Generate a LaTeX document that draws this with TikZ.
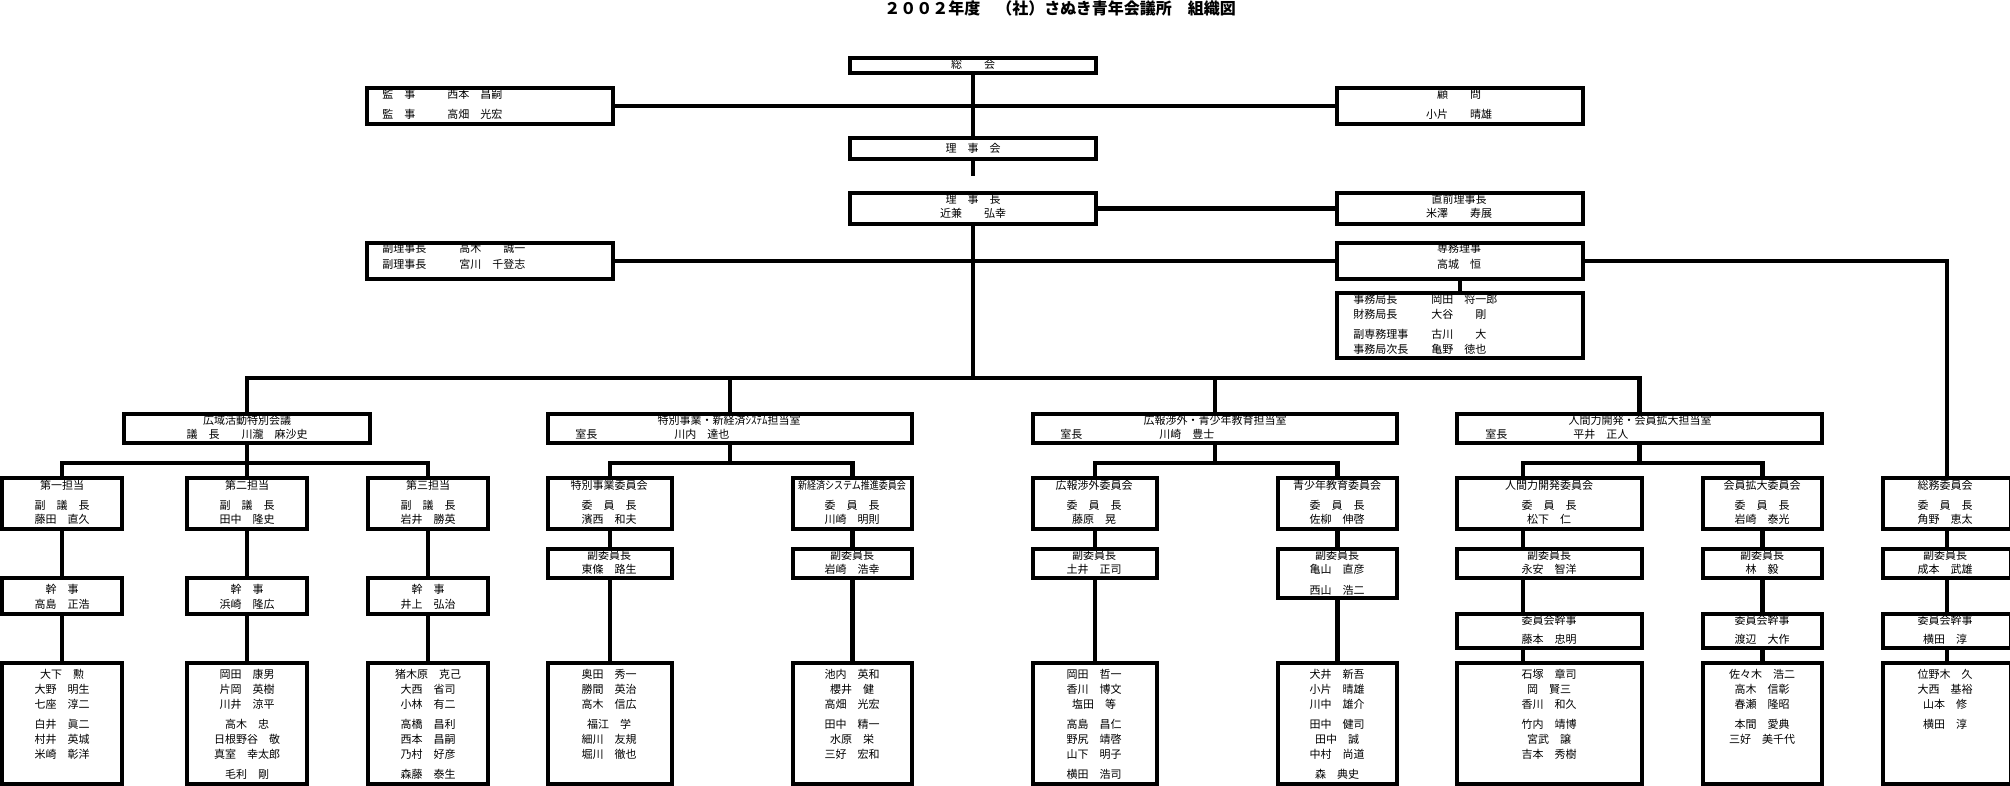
\documentclass[tikz,border=0pt]{standalone}
\usepackage{fontspec}
\usepackage{graphicx}
\newfontfamily\jp{Noto Sans CJK JP}
\usetikzlibrary{fit}

\tikzset{
  box/.style={draw, line width=4.5pt, inner sep=0pt},
  txt/.style={font=\jp\fontsize{11}{13}\selectfont, inner sep=0pt, anchor=base, yshift=-4pt},
  heading/.style={font=\jp\bfseries\fontsize{16}{18}\selectfont, inner sep=0pt, anchor=base west},
}

\begin{document}
\begin{tikzpicture}[x=1pt, y=-1pt, line width=4.5pt]
\path[use as bounding box, fill=white] (0,0) rectangle (2010,786);

\node[heading] (title) at (882,15) {２００２年度　（社）さぬき青年会議所　組織図};

\coordinate (bus) at (0,378);
\coordinate (sub) at (0,463);
\coordinate (dx) at (1523,0);
\coordinate (rijikai-end) at (973,176);

% boxes
\begin{scope}[every node/.style={box}]
  \node[fit={(850,58) (1096,73)}] (sokai) {};
  \node[fit={(367,88) (613,124)}] (kanji) {};
  \node[fit={(1337,88) (1583,124)}] (komon) {};
  \node[fit={(850,138) (1096,159)}] (rijikai) {};
  \node[fit={(850,193) (1096,224)}] (rijicho) {};
  \node[fit={(1337,193) (1583,224)}] (zenrijicho) {};
  \node[fit={(367,243) (613,279)}] (fukurijicho) {};
  \node[fit={(1337,243) (1583,279)}] (senmu) {};
  \node[fit={(1337,293) (1583,358)}] (jimukyoku) {};

  \node[fit={(124,414) (370,443)}] (kouiki) {};
  \node[fit={(548,414) (912,443)}] (tokubetsu) {};
  \node[fit={(1033,414) (1397,443)}] (kouhou) {};
  \node[fit={(1457,414) (1822,443)}] (jinzai) {};

  \foreach \n/\xa/\xb in {dai1/2/122, dai2/187/307, dai3/368/488,
      tokuiin/548/672, shinkeizai/793/912, kouhouiin/1033/1157,
      seishounen/1278/1397, ningen/1457/1642, kaiin/1703/1822, soumu/1883/2011}
  {
    \node[fit={(\xa,478) (\xb,529)}] (\n) {};
    \node[fit={(\xa,663) (\xb,784)}] (\n-mem) {};
  }

  \foreach \n/\xa/\xb in {dai1/2/122, dai2/187/307, dai3/368/488}
    \node[fit={(\xa,578) (\xb,614)}] (\n-kan) {};

  \foreach \n/\xa/\xb in {tokuiin/548/672, shinkeizai/793/912, kouhouiin/1033/1157,
      ningen/1457/1642, kaiin/1703/1822, soumu/1883/2011}
    \node[fit={(\xa,549) (\xb,578)}] (\n-fuku) {};
  \node[fit={(1278,549) (1397,598)}] (seishounen-fuku) {};

  \foreach \n/\xa/\xb in {ningen/1457/1642, kaiin/1703/1822, soumu/1883/2011}
    \node[fit={(\xa,614) (\xb,648)}] (\n-kan) {};
\end{scope}

% connectors
\draw (sokai.south) -- (rijikai.north);
\draw (kanji.east) -- (komon.west);
\draw (rijikai.south) -- (rijikai-end);
\draw (rijicho.east) -- (zenrijicho.west);
\draw (fukurijicho.east) -- (senmu.west);
\draw (senmu.south) -- (jimukyoku.north);
\draw (senmu.east) -| (soumu.north);
\draw (rijicho.south) -- (rijicho.south |- bus);
\draw (kouiki.north) |- (jinzai.north |- bus) -- (jinzai.north);
\draw (tokubetsu.north) -- (tokubetsu.north |- bus);
\draw (kouhou.north) -- (kouhou.north |- bus);

\draw (kouiki.south) -- (dai2.north);
\draw (dai1.north) |- (dai3.north |- sub) -- (dai3.north);
\draw (tokubetsu.south) -- (tokubetsu.south |- sub);
\draw (tokuiin.north) |- (shinkeizai.north |- sub) -- (shinkeizai.north);
\draw (kouhou.south) -- (kouhou.south |- sub);
\draw (kouhouiin.north) |- (seishounen.north |- sub) -- (seishounen.north);
\draw (jinzai.south) -- (jinzai.south |- sub);
\draw (ningen.north -| dx) |- (kaiin.north |- sub) -- (kaiin.north);

\foreach \a/\b in {dai1/dai1-kan, dai1-kan/dai1-mem, dai2/dai2-kan, dai2-kan/dai2-mem,
    dai3/dai3-kan, dai3-kan/dai3-mem, tokuiin/tokuiin-fuku, tokuiin-fuku/tokuiin-mem,
    shinkeizai/shinkeizai-fuku, shinkeizai-fuku/shinkeizai-mem,
    kouhouiin/kouhouiin-fuku, kouhouiin-fuku/kouhouiin-mem,
    seishounen/seishounen-fuku, seishounen-fuku/seishounen-mem,
    kaiin/kaiin-fuku, kaiin-fuku/kaiin-kan, kaiin-kan/kaiin-mem,
    soumu/soumu-fuku, soumu-fuku/soumu-kan, soumu-kan/soumu-mem}
  \draw (\a.south) -- (\b.north);
\foreach \a/\b in {ningen/ningen-fuku, ningen-fuku/ningen-kan, ningen-kan/ningen-mem}
  \draw (\a.south -| dx) -- (\b.north -| dx);

% texts
\begin{scope}[every node/.style={txt}]
  \node (sokai-1) at (973,65) {総　　会};
  \node (rijikai-1) at (973,149) {理　事　会};
  \node (rijicho-1) at (973,200) {理　事　長};
  \node (rijicho-2) at (973,214) {近兼　　弘幸};

  \node[anchor=base west] (kanji-1) at (380,95) {監　事};
  \node[anchor=base west] (kanji-2) at (445,95) {西本　昌嗣};
  \node[anchor=base west] (kanji-3) at (380,115) {監　事};
  \node[anchor=base west] (kanji-4) at (445,115) {高畑　光宏};

  \node[anchor=base west] (fukurijicho-1) at (380,249) {副理事長};
  \node[anchor=base west] (fukurijicho-2) at (457,249) {高木　　誠一};
  \node[anchor=base west] (fukurijicho-3) at (380,265) {副理事長};
  \node[anchor=base west] (fukurijicho-4) at (457,265) {宮川　千登志};

  \node (komon-1) at (1459,95) {顧　　問};
  \node (komon-2) at (1459,115) {小片　　晴雄};
  \node (zenrijicho-1) at (1459,200) {直前理事長};
  \node (zenrijicho-2) at (1459,214) {米澤　　寿展};
  \node (senmu-1) at (1459,249) {専務理事};
  \node (senmu-2) at (1459,265) {高城　恒};

  \foreach \r/\nm/\yy [count=\k] in {事務局長/岡田　将一郎/300, 財務局長/大谷　　剛/314,
      副専務理事/古川　　大/334, 事務局次長/亀野　徳也/349}
  {
    \node[anchor=base west] (jimu-r\k) at (1351,\yy) {\r};
    \node[anchor=base west] (jimu-n\k) at (1429,\yy) {\nm};
  }

  \node (kouiki-1) at (247,420) {広域活動特別会議};
  \node (kouiki-2) at (247,434) {議　長　　川瀧　麻沙史};
  \node (tokubetsu-1) at (729,420) {特別事業・新経済ｼｽﾃﾑ担当室};
  \node[anchor=base west] (tokubetsu-2) at (573,434) {室長};
  \node[anchor=base west] (tokubetsu-3) at (672,434) {川内　達也};
  \node (kouhou-1) at (1215,420) {広報渉外・青少年教育担当室};
  \node[anchor=base west] (kouhou-2) at (1058,434) {室長};
  \node[anchor=base west] (kouhou-3) at (1157,434) {川崎　豊士};
  \node (jinzai-1) at (1640,420) {人間力開発・会員拡大担当室};
  \node[anchor=base west] (jinzai-2) at (1483,434) {室長};
  \node[anchor=base west] (jinzai-3) at (1571,434) {平井　正人};

  \foreach \x/\hd/\rl/\nm in {62/第一担当/副　議　長/藤田　直久, 247/第二担当/副　議　長/田中　隆史,
      428/第三担当/副　議　長/岩井　勝英, 609/特別事業委員会/委　員　長/濱西　和夫,
      852/{\scalebox{0.82}[1]{新経済システム推進委員会}}/委　員　長/川崎　明則,
      1094/広報渉外委員会/委　員　長/藤原　晃, 1337/青少年教育委員会/委　員　長/佐柳　伸啓,
      1549/人間力開発委員会/委　員　長/松下　仁, 1762/会員拡大委員会/委　員　長/岩崎　泰光,
      1945/総務委員会/委　員　長/角野　恵太}
  {
    \node (h\x-1) at (\x,485) {\hd};
    \node (h\x-2) at (\x,505) {\rl};
    \node (h\x-3) at (\x,519) {\nm};
  }

  \foreach \x/\nm in {62/高島　正浩, 247/浜崎　隆広, 428/井上　弘治}
  {
    \node (k\x-1) at (\x,589) {幹　事};
    \node (k\x-2) at (\x,604) {\nm};
  }

  \foreach \x/\nm in {609/東條　路生, 852/岩崎　浩幸, 1094/土井　正司, 1337/亀山　直彦,
      1549/永安　智洋, 1762/林　毅, 1945/成本　武雄}
  {
    \node (f\x-1) at (\x,555) {副委員長};
    \node (f\x-2) at (\x,569) {\nm};
  }
  \node (f1337-3) at (1337,590) {西山　浩二};

  \foreach \x/\nm in {1549/藤本　忠明, 1762/渡辺　大作, 1945/横田　淳}
  {
    \node (c\x-1) at (\x,620) {委員会幹事};
    \node (c\x-2) at (\x,639) {\nm};
  }

  % member lists
  \foreach \x/\names in {
      62/{大下　勲,大野　明生,七座　淳二,白井　眞二,村井　英城,米崎　彰洋},
      247/{岡田　康男,片岡　英樹,川井　涼平,高木　忠,日根野谷　敬,真室　幸太郎,毛利　剛},
      428/{猪木原　克己,大西　省司,小林　有二,高橋　昌利,西本　昌嗣,乃村　好彦,森藤　泰生},
      609/{奥田　秀一,勝間　英治,高木　信広,福江　学,細川　友規,堀川　徹也},
      852/{池内　英和,櫻井　健,高畑　光宏,田中　精一,水原　栄,三好　宏和},
      1094/{岡田　哲一,香川　博文,塩田　等,高島　昌仁,野尻　靖啓,山下　明子,横田　浩司},
      1337/{犬井　新吾,小片　晴雄,川中　雄介,田中　健司,田中　誠,中村　尚道,森　典史},
      1549/{石塚　章司,岡　賢三,香川　和久,竹内　靖博,宮武　譲,吉本　秀樹},
      1762/{佐々木　浩二,高木　信彰,春瀬　隆昭,本間　愛典,三好　美千代},
      1945/{位野木　久,大西　基裕,山本　修,横田　淳}}
    \foreach \nm [count=\k] in \names
    {
      \pgfmathsetmacro{\yy}{{674,689,704,724,739,754,774}[\k-1]}
      \node (m\x-\k) at (\x,\yy) {\nm};
    }
\end{scope}

\end{tikzpicture}
\end{document}
